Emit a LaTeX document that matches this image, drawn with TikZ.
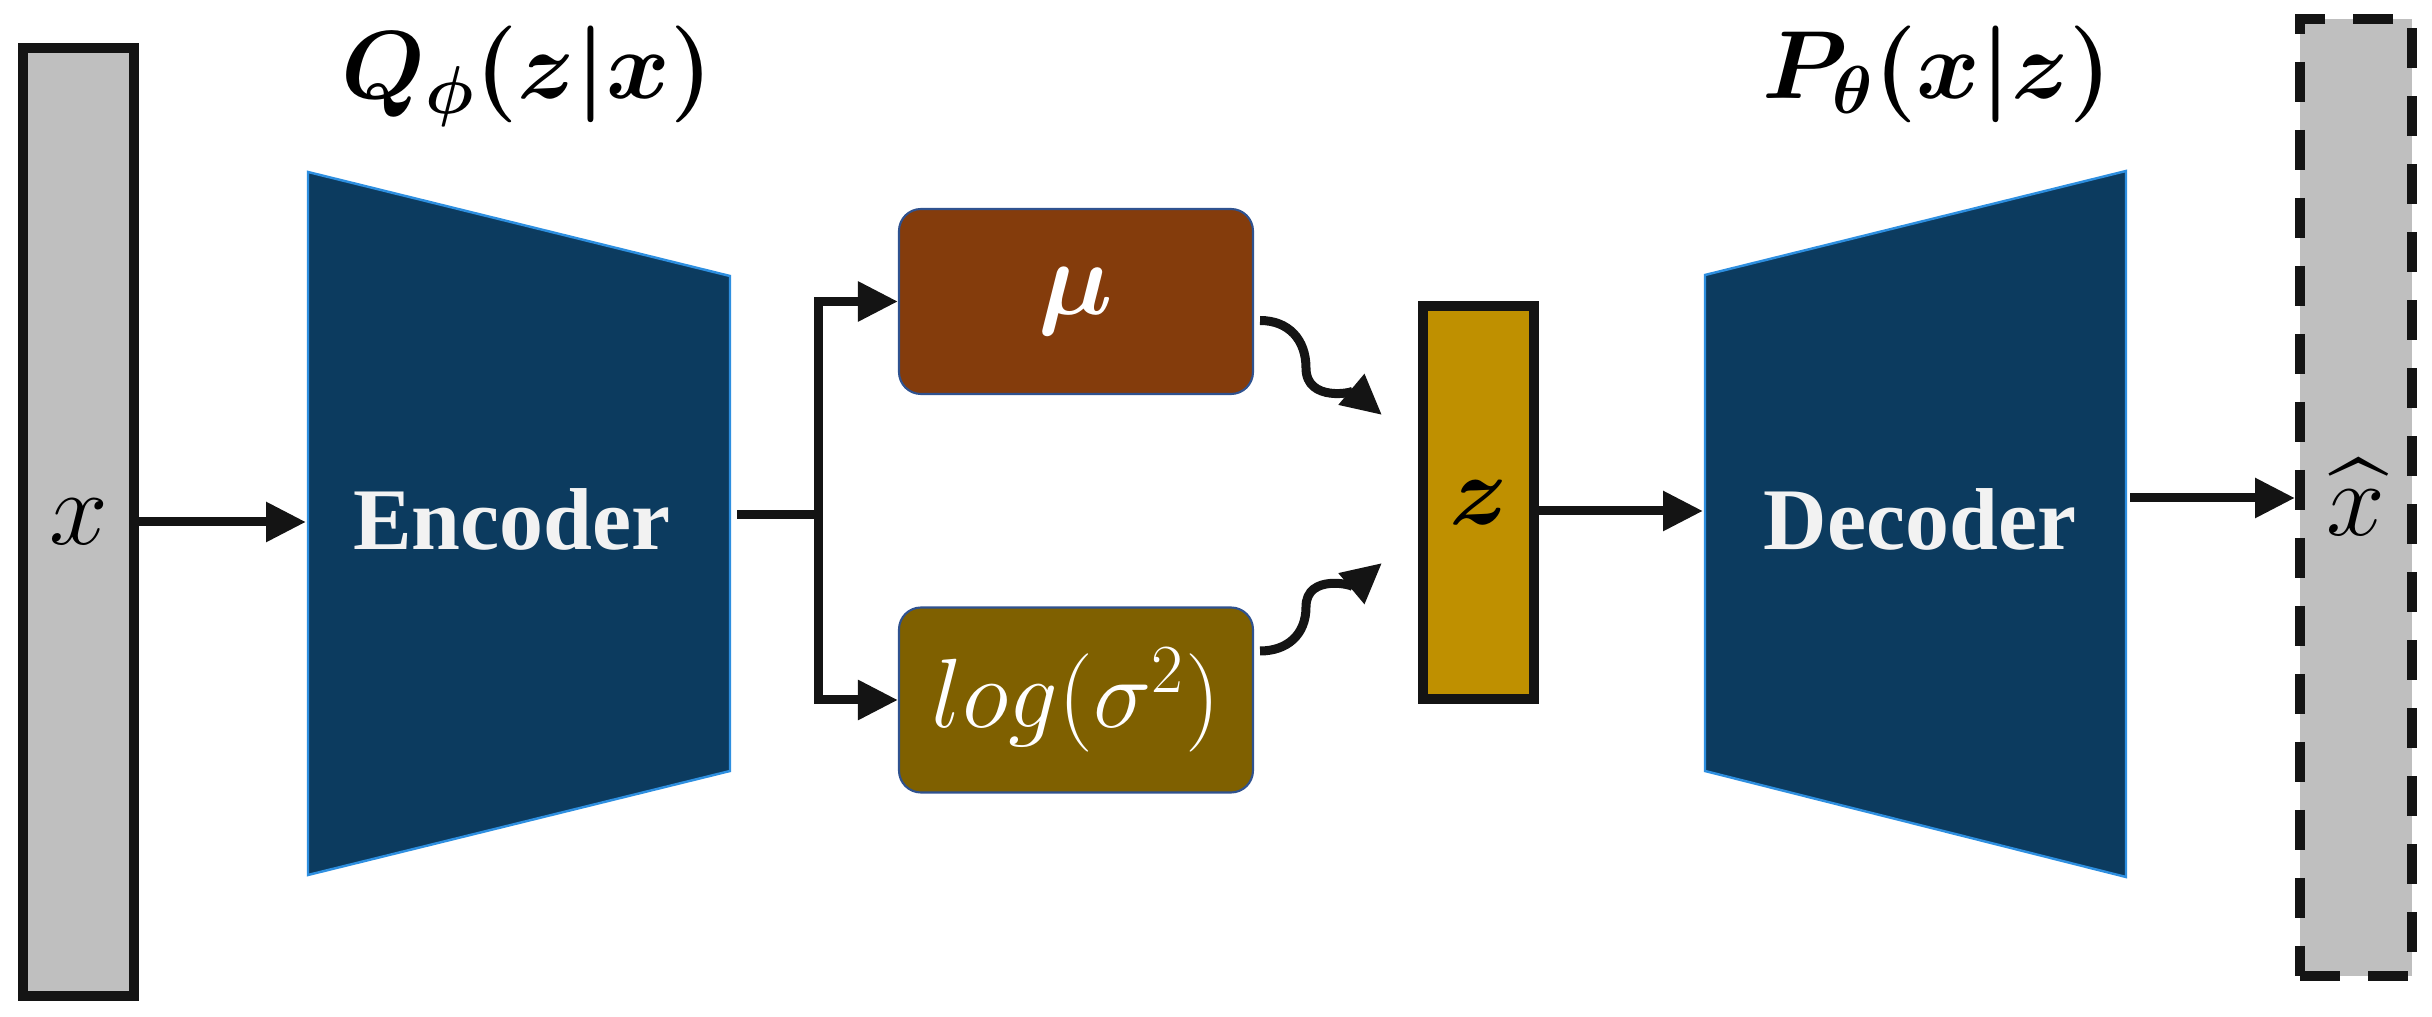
\RequirePackage{fix-cm}
\documentclass[tikz,border=0pt]{standalone}
\usepackage{amsmath}
\usepackage{amssymb}
\usepackage{fontspec}
\newfontfamily\netserif{Liberation Serif}
\usepackage{tikz}
\usetikzlibrary{arrows.meta, positioning}

\definecolor{bargray}{HTML}{BFBFBF}
\definecolor{netblue}{HTML}{0C3B5F}
\definecolor{netedge}{HTML}{2E8FE0}
\definecolor{mubrown}{HTML}{843C0C}
\definecolor{sigolive}{HTML}{7F6000}
\definecolor{zgold}{HTML}{BF9000}
\definecolor{boxedge}{HTML}{2F528F}
\definecolor{inkblack}{HTML}{141414}

\begin{document}
\begin{tikzpicture}[
  databar/.style={rectangle, draw=inkblack, line width=1mm, fill=bargray,
    minimum width=1.11cm, font=\fontsize{30}{34}\selectfont},
  netbody/.style={fill=netblue, draw=netedge, line width=0.7pt},
  nettext/.style={font=\netserif\bfseries\fontsize{25}{30}\selectfont, text=white!95!black},
  statbox/.style={rectangle, draw=boxedge, line width=0.6pt, rounded corners=2.2mm,
    minimum width=3.54cm, minimum height=1.85cm, text=white},
  distlabel/.style={anchor=base, font=\fontsize{27.5}{33}\selectfont},
  arr/.style={-{Triangle[length=4mm, width=3.8mm]}, line width=0.9mm, draw=inkblack},
  wire/.style={line width=0.9mm, draw=inkblack}
]
  \useasboundingbox (0,0) rectangle (24.32,-10.17);

  \node[databar, minimum height=9.48cm] (x) at (0.785,-5.22) {$x$};
  \node[databar, dash pattern=on 4mm off 2.8mm, minimum width=1.12cm,
    minimum height=9.57cm] (xhat) at (23.56,-4.975) {$\widehat{x}$};

  % encoder and decoder bodies
  \draw[netbody] (3.08,-1.72) -- (7.30,-2.76) -- (7.30,-7.71) -- (3.08,-8.75) -- cycle;
  \node[nettext] (enc) at (5.12,-5.19) {Encoder};
  \draw[netbody] (17.05,-2.75) -- (21.26,-1.71) -- (21.26,-8.77) -- (17.05,-7.71) -- cycle;
  \node[nettext] (dec) at (19.20,-5.19) {Decoder};

  \node[distlabel] (qenc) at (5.27,-0.99) {$\boldsymbol{Q_{\phi}(z|x)}$};
  \node[distlabel] (pdec) at (19.37,-0.99) {$\boldsymbol{P_{\theta}(x|z)}$};

  \node[statbox, fill=mubrown, font=\fontsize{30}{34}\selectfont] (mu) at (10.76,-3.015) {$\boldsymbol{\mu}$};
  \node[statbox, fill=sigolive, font=\fontsize{28}{32}\selectfont] (logvar) at (10.76,-7.00) {$log(\sigma^2)$};
  \node[databar, fill=zgold, minimum height=3.93cm, font=\fontsize{28}{32}\selectfont] (z) at (14.785,-5.025) {$\boldsymbol{z}$};

  \coordinate (encin)  at (3.06,-5.22);
  \coordinate (encout) at (7.37,-5.15);
  \coordinate (fork)   at (8.18,-5.15);
  \coordinate (zin1)   at (13.82,-4.15);
  \coordinate (zin2)   at (13.82,-5.63);
  \coordinate (decin)  at (17.03,-5.11);
  \coordinate (decout) at (21.30,-4.98);

  \draw[arr] (x.east |- encin) -- (encin);
  \draw[wire] (encout) -- (fork);
  \draw[arr] (fork) |- (mu);
  \draw[arr] (fork) |- (logvar);

  \draw[arr] ([xshift=0.6mm,yshift=-1.9mm]mu.east) to[out=0,in=90,looseness=1.1] (13.06,-3.68)
    to[out=-90,in=140] (zin1);
  \draw[arr] ([xshift=0.6mm,yshift=4.9mm]logvar.east) to[out=0,in=-90,looseness=1.1] (13.06,-6.07)
    to[out=90,in=-140] (zin2);

  \draw[arr] (z.east |- decin) -- (decin);
  \draw[arr] (decout) -- (xhat.west |- decout);
\end{tikzpicture}
\end{document}
